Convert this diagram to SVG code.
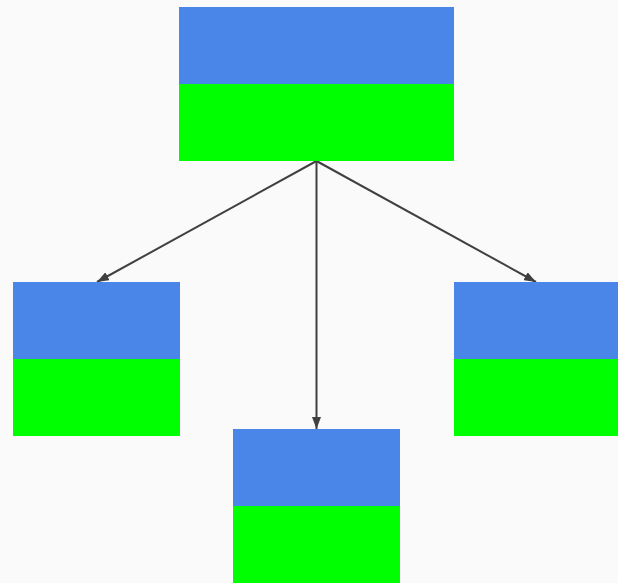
<svg xmlns="http://www.w3.org/2000/svg" width="618" height="583" viewBox="0 0 618 583">
<style>
.top{fill:#4a86e8}
.bot{fill:#00ff00}
.edge{stroke:#404040;stroke-width:2;fill:none;marker-end:url(#arr)}
</style>
<defs>
<marker id="arr" markerWidth="12" markerHeight="9" refX="12" refY="4.5" orient="auto" markerUnits="userSpaceOnUse">
<path d="M0,0 L12,4.5 L0,9 Z" fill="#404040"/>
</marker>
</defs>
<rect width="618" height="583" fill="#fafafa"/>
<g id="connectors">
<line class="edge" x1="316.5" y1="161" x2="97" y2="282"/>
<line class="edge" x1="316.5" y1="161" x2="316.5" y2="429"/>
<line class="edge" x1="316.5" y1="161" x2="536" y2="282"/>
</g>
<g id="root">
<rect class="top" x="179" y="7" width="275" height="77"/>
<rect class="bot" x="179" y="84" width="275" height="77"/>
</g>
<g id="left">
<rect class="top" x="13" y="282" width="167" height="77"/>
<rect class="bot" x="13" y="359" width="167" height="77"/>
</g>
<g id="middle">
<rect class="top" x="233" y="429" width="167" height="77"/>
<rect class="bot" x="233" y="506" width="167" height="77"/>
</g>
<g id="right">
<rect class="top" x="454" y="282" width="164" height="77"/>
<rect class="bot" x="454" y="359" width="164" height="77"/>
</g>
</svg>
